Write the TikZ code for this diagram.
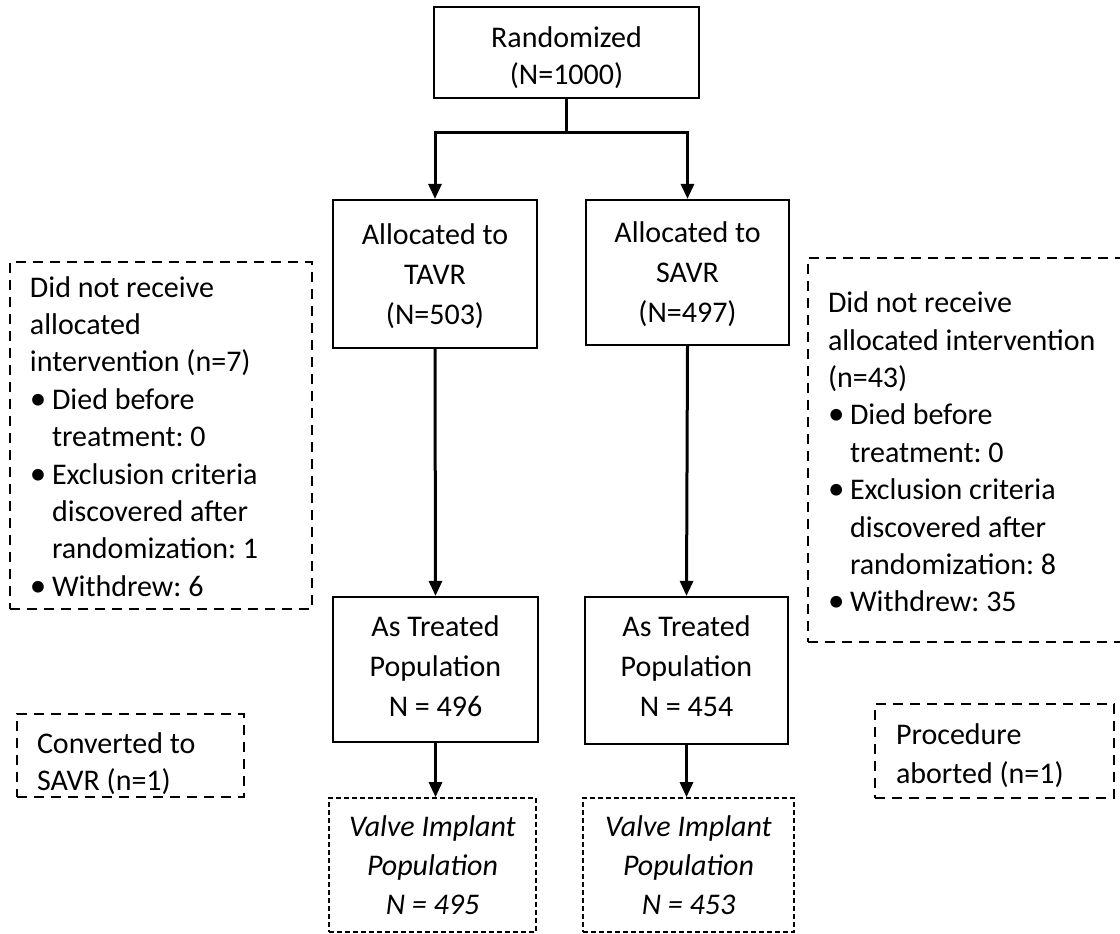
\documentclass[tikz,border=0pt]{standalone}
\usepackage{fontspec}
\setmainfont{Carlito}
\usetikzlibrary{arrows.meta}
\frenchspacing
\newcommand\fcbul[1]{\makebox[22pt][l]{\fontsize{33}{33}\selectfont\textbullet}#1}
\newcommand\fcind[1]{\hspace*{22pt}#1}
\begin{document}
\begin{tikzpicture}[x=1pt,y=-1pt,
  solidbox/.style={draw,line width=2.2pt,inner sep=0pt},
  sidebox/.style={draw,line width=2.2pt,dash pattern=on 10pt off 7pt,inner sep=0pt},
  valvebox/.style={draw,line width=1.7pt,dash pattern=on 5pt off 3pt,inner sep=0pt},
  ctext/.style={align=center,inner sep=0pt,font=\fontsize{30}{40}\selectfont},
  vtext/.style={align=center,inner sep=0pt,font=\fontsize{30}{39}\selectfont\itshape},
  stext/.style={align=flush left,inner sep=0pt,font=\fontsize{30}{37.4}\selectfont},
  arr/.style={line width=3pt,-{Triangle[length=15pt,width=13pt]}},
  plain/.style={line width=3pt}]
\clip (0,0) rectangle (1120,934);
% central column boxes
\node[solidbox,minimum width=265pt,minimum height=91pt] (rand) at (566.5,52.5) {};
\node[solidbox,minimum width=204pt,minimum height=148pt] (tavr) at (435,274) {};
\node[solidbox,minimum width=203pt,minimum height=145pt] (savr) at (687.5,272.5) {};
\node[solidbox,minimum width=205pt,minimum height=145pt] (at1) at (435.5,669.5) {};
\node[solidbox,minimum width=203pt,minimum height=147pt] (at2) at (686.5,670.5) {};
\node[valvebox,minimum width=207pt,minimum height=134pt] (v1) at (432.5,865) {};
\node[valvebox,minimum width=211pt,minimum height=134pt] (v2) at (688.5,865) {};
% central texts
\node[ctext,font=\fontsize{30}{36.7}\selectfont] (randt) at ([yshift=-5pt]rand.center) {Randomized\\(N=1000)};
\node[ctext] (tavrt) at ([yshift=-2pt]tavr.center) {Allocated to\\TAVR\\(N=503)};
\node[ctext] (savrt) at ([yshift=-2pt]savr.center) {Allocated to\\SAVR\\(N=497)};
\node[ctext] (at1t) at ([yshift=3pt]at1.center) {As Treated\\Population\\N = 496};
\node[ctext] (at2t) at ([yshift=4pt]at2.center) {As Treated\\Population\\N = 454};
\node[vtext] (v1t) at (v1.center) {Valve Implant\\Population\\N = 495};
\node[vtext] (v2t) at (v2.center) {Valve Implant\\Population\\N = 453};
% side boxes
\node[sidebox,minimum width=302pt,minimum height=347pt] (left) at (161,435.5) {};
\node[sidebox,minimum width=332pt,minimum height=384pt] (right) at (974,450) {};
\node[sidebox,minimum width=227pt,minimum height=83pt] (conv) at (130.5,755.5) {};
\node[sidebox,minimum width=239pt,minimum height=94pt] (proc) at (994.5,751) {};
% side texts
\node[stext,text width=262pt] (leftt) at ([yshift=-1pt]left.center)
  {Did not receive\\allocated\\intervention (n=7)\\\fcbul{Died before}\\\fcind{treatment: 0}\\\fcbul{Exclusion criteria}\\\fcind{discovered after}\\\fcind{randomization: 1}\\\fcbul{Withdrew: 6}};
\node[stext,text width=292pt] (rightt) at ([yshift=-2pt]right.center)
  {Did not receive\\allocated intervention\\(n=43)\\\fcbul{Died before}\\\fcind{treatment: 0}\\\fcbul{Exclusion criteria}\\\fcind{discovered after}\\\fcind{randomization: 8}\\\fcbul{Withdrew: 35}};
\node[stext,text width=187pt] (convt) at ([yshift=-8pt]conv.center)
  {Converted to\\SAVR (n=1)};
\node[stext,text width=197pt,font=\fontsize{30}{39}\selectfont] (proct) at ([yshift=-5pt]proc.center)
  {Procedure\\aborted (n=1)};
% connectors
\draw[plain] (rand.south) -- ++(0,33) coordinate (split);
\draw[arr] (split) -| (tavr.north);
\draw[arr] (split) -| (savr.north);
\draw[arr] (tavr.south) -- (at1.north);
\draw[arr] (savr.south) -- (at2.north);
\draw[arr] (at1.south) -- (v1.north -| at1.south);
\draw[arr] (at2.south) -- (v2.north -| at2.south);
\end{tikzpicture}
\end{document}
